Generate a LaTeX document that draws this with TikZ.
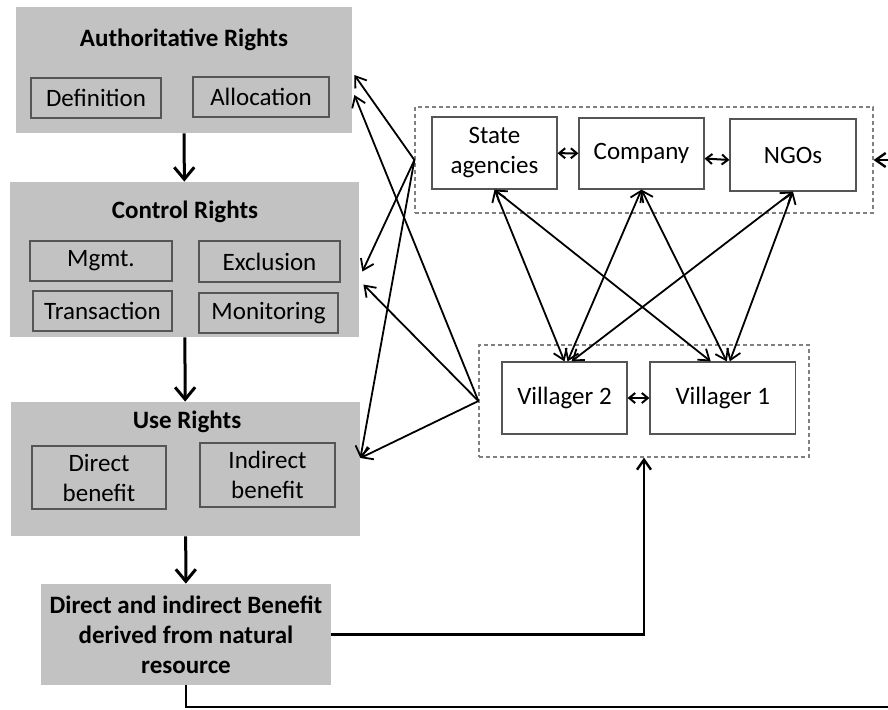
\documentclass[tikz,border=0pt]{standalone}
\usepackage{fontspec}
\setmainfont{Carlito}
\usetikzlibrary{arrows.meta}
\definecolor{rightsgray}{RGB}{194,194,194}
\definecolor{edgegray}{RGB}{85,85,85}
\begin{document}
\begin{tikzpicture}[x=0.5pt,y=-0.5pt,
    font=\fontsize{12.5}{15}\selectfont,
    rights/.style={fill=rightsgray,draw=none,inner sep=0pt},
    title/.style={font=\fontsize{12.5}{15}\selectfont\bfseries},
    part/.style={draw=edgegray,fill=rightsgray,line width=0.6pt,inner sep=0pt,align=center},
    actor/.style={draw=edgegray,fill=white,line width=0.6pt,inner sep=0pt,align=center},
    group/.style={draw=gray,dashed,dash pattern=on 2pt off 1.5pt,line width=0.6pt,inner sep=0pt},
    link/.style={line width=0.9pt,-{Straight Barb[length=5pt,width=7pt]}},
    both/.style={line width=0.9pt,{Straight Barb[length=5pt,width=7pt]}-{Straight Barb[length=5pt,width=7pt]}},
    pair/.style={line width=1pt,{Straight Barb[length=3pt,width=5pt]}-{Straight Barb[length=3pt,width=5pt]}},
    flow/.style={line width=1.5pt,-{Straight Barb[length=6pt,width=10pt,line width=1.5pt]}}]
    \clip (0,0) rectangle (888,709);
    % left column
    \node[rights,minimum width=168pt,minimum height=63pt] (auth) at (184,70) {};
    \node[title] (authT) at (184,40) {Authoritative Rights};
    \node[part,minimum width=65pt,minimum height=20pt] (defin) at (96,98) {Definition};
    \node[part,minimum width=68pt,minimum height=20pt] (alloc) at (261,97) {Allocation};

    \node[rights,minimum width=174.5pt,minimum height=77.5pt] (ctrl) at (184.5,259.5) {};
    \node[title] (ctrlT) at (185,212) {Control Rights};
    \node[part,minimum width=71pt,minimum height=20pt] (mgmt) at (101,261) {Mgmt.};
    \node[part,minimum width=70.5pt,minimum height=20.5pt] (excl) at (269.5,261.5) {Exclusion};
    \node[part,minimum width=69.5pt,minimum height=20pt] (trans) at (102.5,311) {Transaction};
    \node[part,minimum width=69.5pt,minimum height=20pt] (monit) at (268.5,313) {Monitoring};

    \node[rights,minimum width=174.5pt,minimum height=67pt] (use) at (185.5,469) {};
    \node[title] (useT) at (187,422) {Use Rights};
    \node[part,minimum width=67pt,minimum height=31.5pt] (direct) at (99,477.5) {Direct\\benefit};
    \node[part,minimum width=67.5pt,minimum height=32pt] (indir) at (267.5,475) {Indirect\\benefit};

    \node[rights,title,minimum width=145pt,minimum height=50.5pt,align=center] (benef) at (186,634.5) {Direct and indirect Benefit\\derived from natural\\resource};

    \draw[flow] (auth) -- (ctrl);
    \draw[flow] (ctrl) -- (use);
    \draw[flow] (use) -- (benef);

    % actors
    \node[group,minimum width=229pt,minimum height=53pt] (actors) at (644,160) {};
    \node[actor,minimum width=62.5pt,minimum height=36pt] (state) at (494.5,153) {State\\agencies};
    \node[actor,minimum width=62.5pt,minimum height=35.5pt] (comp) at (641.5,153.5) {Company};
    \node[actor,minimum width=63pt,minimum height=36pt] (ngo) at (793,155) {NGOs};

    \node[group,minimum width=165pt,minimum height=56pt] (villagers) at (644,401) {};
    \node[actor,minimum width=62.5pt,minimum height=36pt] (vil2) at (564.5,398) {Villager 2};
    \node[actor,minimum width=72.75pt,minimum height=36pt] (vil1) at (722.75,398) {Villager 1};

    \draw[pair] (state) -- (comp);
    \draw[pair] ([yshift=-2.5pt]comp.east) -- ([yshift=-2.5pt]ngo.west);
    \draw[pair] (vil2) -- (vil1);

    \draw[both] (state.south) -- (vil2.north);
    \draw[both] (state.south) -- ([xshift=-6pt]vil1.north);
    \draw[both] (comp.south) -- ([xshift=1.5pt]vil2.north);
    \draw[both] (comp.south) -- ([xshift=2pt]vil1.north);
    \draw[both] (ngo.south) -- ([xshift=3.5pt]vil2.north);
    \draw[both] (ngo.south) -- ([xshift=3.5pt]vil1.north);

    % fan to the rights
    \draw[link] (actors.west) -- ([yshift=-2.5pt,xshift=1pt]auth.east);
    \draw[link] (actors.west) -- ([yshift=-6pt,xshift=1.5pt]ctrl.east);
    \draw[link] (actors.west) -- ([yshift=5.5pt]use.east);
    \draw[link] (villagers.west) -- ([yshift=-12.5pt,xshift=1pt]auth.east);
    \draw[link] (villagers.west) -- ([yshift=-12.5pt,xshift=2pt]ctrl.east);
    \draw[link] (villagers.west) -- ([yshift=5.5pt]use.east);

    % feedback
    \draw[link,line width=1.2pt] (benef.east) -| (villagers.south);
    \coordinate (low) at (186,707);
    \coordinate (far) at (900,707);
    \coordinate (farup) at (900,160);
    \draw[link,line width=1.2pt] (benef.south) -- (low) -- (far) -- (farup) -- (actors.east);
\end{tikzpicture}
\end{document}
